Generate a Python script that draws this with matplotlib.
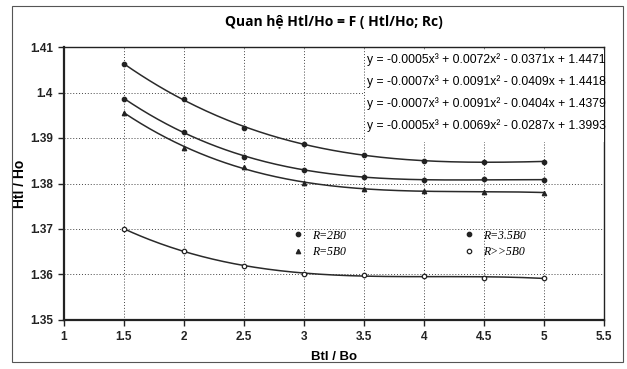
import numpy as np
import matplotlib
matplotlib.use("Agg")
import matplotlib.pyplot as plt
from matplotlib.patches import Rectangle

plt.rcParams['font.family'] = ['Liberation Sans Narrow', 'Liberation Sans', 'DejaVu Sans']

x = [1.5, 2, 2.5, 3, 3.5, 4, 4.5, 5]
r_2b0 = [1.4062, 1.3986, 1.3923, 1.3886, 1.3863, 1.3849, 1.3848, 1.3848]
r_35b0 = [1.3986, 1.3914, 1.3859, 1.3830, 1.3814, 1.3808, 1.3809, 1.3808]
r_5b0 = [1.3956, 1.3879, 1.3836, 1.3802, 1.3787, 1.3784, 1.3782, 1.3780]
r_gg5b0 = [1.3700, 1.3652, 1.3619, 1.3601, 1.3599, 1.3596, 1.3593, 1.3592]
labels = ["R=2B0", "R=3.5B0", "R=5B0", "R>>5B0"]
equations = [
    "y = -0.0005x³ + 0.0072x² - 0.0371x + 1.4471",
    "y = -0.0007x³ + 0.0091x² - 0.0409x + 1.4418",
    "y = -0.0007x³ + 0.0091x² - 0.0404x + 1.4379",
    "y = -0.0005x³ + 0.0069x² - 0.0287x + 1.3993",
]
title = "Quan hệ Htl/Ho = F ( Htl/Ho; Rc)"
xticks = [1, 1.5, 2, 2.5, 3, 3.5, 4, 4.5, 5, 5.5]
yticks = [1.35, 1.36, 1.37, 1.38, 1.39, 1.40, 1.41]
yticklabels = ["1.35", "1.36", "1.37", "1.38", "1.39", "1.4", "1.41"]

fig = plt.figure(figsize=(6.27, 3.69), dpi=100)
ax = fig.add_axes([64/627, 1-320/369, 540/627, 273/369])

series = [r_2b0, r_35b0, r_5b0, r_gg5b0]
markers = ['o', 'o', '^', 'o']
faces = ['#222222', '#222222', '#222222', 'white']
xs = np.linspace(1.5, 5, 200)
handles = []
for s, m, fc, lab in zip(series, markers, faces, labels):
    coef = np.polyfit(x, s, 3)
    ax.plot(xs, np.polyval(coef, xs), color='#2a2a2a', lw=1.1, zorder=3)
    h, = ax.plot(x, s, linestyle='none', marker=m, ms=3.2, mfc=fc,
                 mec='#222222', mew=0.9, zorder=4, label=lab)
    handles.append(h)

ax.set_xlim(1, 5.5)
ax.set_ylim(1.35, 1.41)
ax.set_xticks(xticks)
ax.set_xticklabels([("%g" % t) for t in xticks], fontsize=8.5, fontweight='bold')
ax.set_yticks(yticks)
ax.set_yticklabels(yticklabels, fontsize=8.5, fontweight='bold')
ax.grid(True, color='#444444', linestyle=(0, (1, 2)), linewidth=0.7)
ax.set_axisbelow(True)
for sp in ax.spines.values():
    sp.set_color('#222222')
    sp.set_linewidth(1.0)
ax.spines['left'].set_linewidth(1.6)
ax.spines['bottom'].set_linewidth(1.6)
ax.tick_params(direction='out', length=4, width=1, colors='#222222', pad=4)

ax.set_xlabel("Btl / Bo", fontsize=9.5, fontweight='bold', labelpad=6,
              family=['Liberation Sans', 'DejaVu Sans'])
ax.set_ylabel("Htl / Ho", fontsize=10, fontweight='bold', labelpad=2,
              family=['Liberation Sans', 'DejaVu Sans'])
fig.text(334/627, 1-22/369, title, ha='center', va='center', fontsize=10,
         fontweight='bold', family=['Open Sans', 'DejaVu Sans'])

# equation box
box = Rectangle((365/627, 1-142/369), 239/627, 92/369, transform=fig.transFigure,
                facecolor='white', edgecolor='none', zorder=5)
fig.patches.append(box)
eq_y = [60, 82, 104, 126]
for e, yy in zip(equations, eq_y):
    fig.text(367/627, 1-yy/369, e, ha='left', va='center', fontsize=8.7,
             zorder=6, family=['Liberation Sans Narrow', 'Liberation Sans', 'DejaVu Sans'])

order = [0, 2, 1, 3]
leg = ax.legend(handles=[handles[i] for i in order], loc='upper left',
                bbox_to_anchor=(0.405, 0.37),
                ncol=2, frameon=False, handlelength=0.8,
                columnspacing=10.0, labelspacing=0.35, handletextpad=0.8,
                prop={'family': ['Liberation Serif', 'DejaVu Serif'], 'style': 'italic', 'size': 8.5})

# outer frame
fig.patches.append(Rectangle((12/627, 0.02), 0.975, 0.965, transform=fig.transFigure,
                             fill=False, edgecolor='#555555', lw=0.8))

fig.savefig("out.png", dpi=100)
